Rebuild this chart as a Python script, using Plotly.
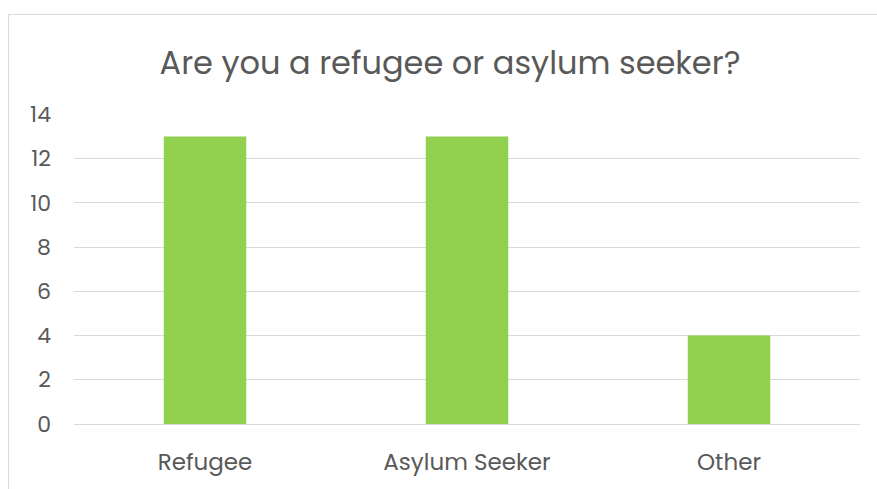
import plotly.graph_objects as go

# Survey responses
categories = ["Refugee", "Asylum Seeker", "Other"]
counts = [13, 13, 4]
y_ticks = [0, 2, 4, 6, 8, 10, 12, 14]

W, H = 877, 489
ML, MR, MT, MB = 74, 17, 114, 65
pw, ph = W - ML - MR, H - MT - MB

font_family = "Poppins, 'Open Sans', sans-serif"
text_color = "#595959"
grid_color = "#d9d9d9"

fig = go.Figure(
    go.Bar(
        x=categories,
        y=counts,
        marker=dict(color="#92d050", line=dict(width=0)),
        width=0.315,
        hoverinfo="x+y",
    )
)

# Outer chart frame (left and top edges visible in the window)
fig.add_shape(
    type="rect",
    xref="paper", yref="paper",
    x0=(8.5 - ML) / pw, x1=(W + 20 - ML) / pw,
    y0=-(MB + 20) / ph, y1=(H - MB - 14.5) / ph,
    line=dict(color=grid_color, width=1),
    fillcolor="rgba(0,0,0,0)",
    layer="below",
)

fig.update_layout(
    width=W,
    height=H,
    margin=dict(l=ML, r=MR, t=MT, b=MB),
    paper_bgcolor="white",
    plot_bgcolor="white",
    showlegend=False,
    font=dict(family=font_family, color=text_color, size=20),
    title=dict(
        text="Are you a refugee or asylum seeker?",
        x=450 / W,
        xanchor="center",
        y=1 - 63 / H,
        yanchor="middle",
        font=dict(size=32, color=text_color, family=font_family),
    ),
)

fig.update_xaxes(
    showgrid=False,
    showline=False,
    zeroline=False,
    ticks="",
    tickfont=dict(size=23, color=text_color),
    ticklabelstandoff=22,
)

fig.update_yaxes(
    range=[0, 14.02],
    tickvals=y_ticks,
    showgrid=True,
    gridcolor=grid_color,
    gridwidth=1,
    zeroline=True,
    zerolinecolor=grid_color,
    zerolinewidth=1,
    showline=False,
    ticks="",
    tickfont=dict(size=22, color=text_color),
    ticklabelstandoff=22,
)

fig.write_html("out.html")
